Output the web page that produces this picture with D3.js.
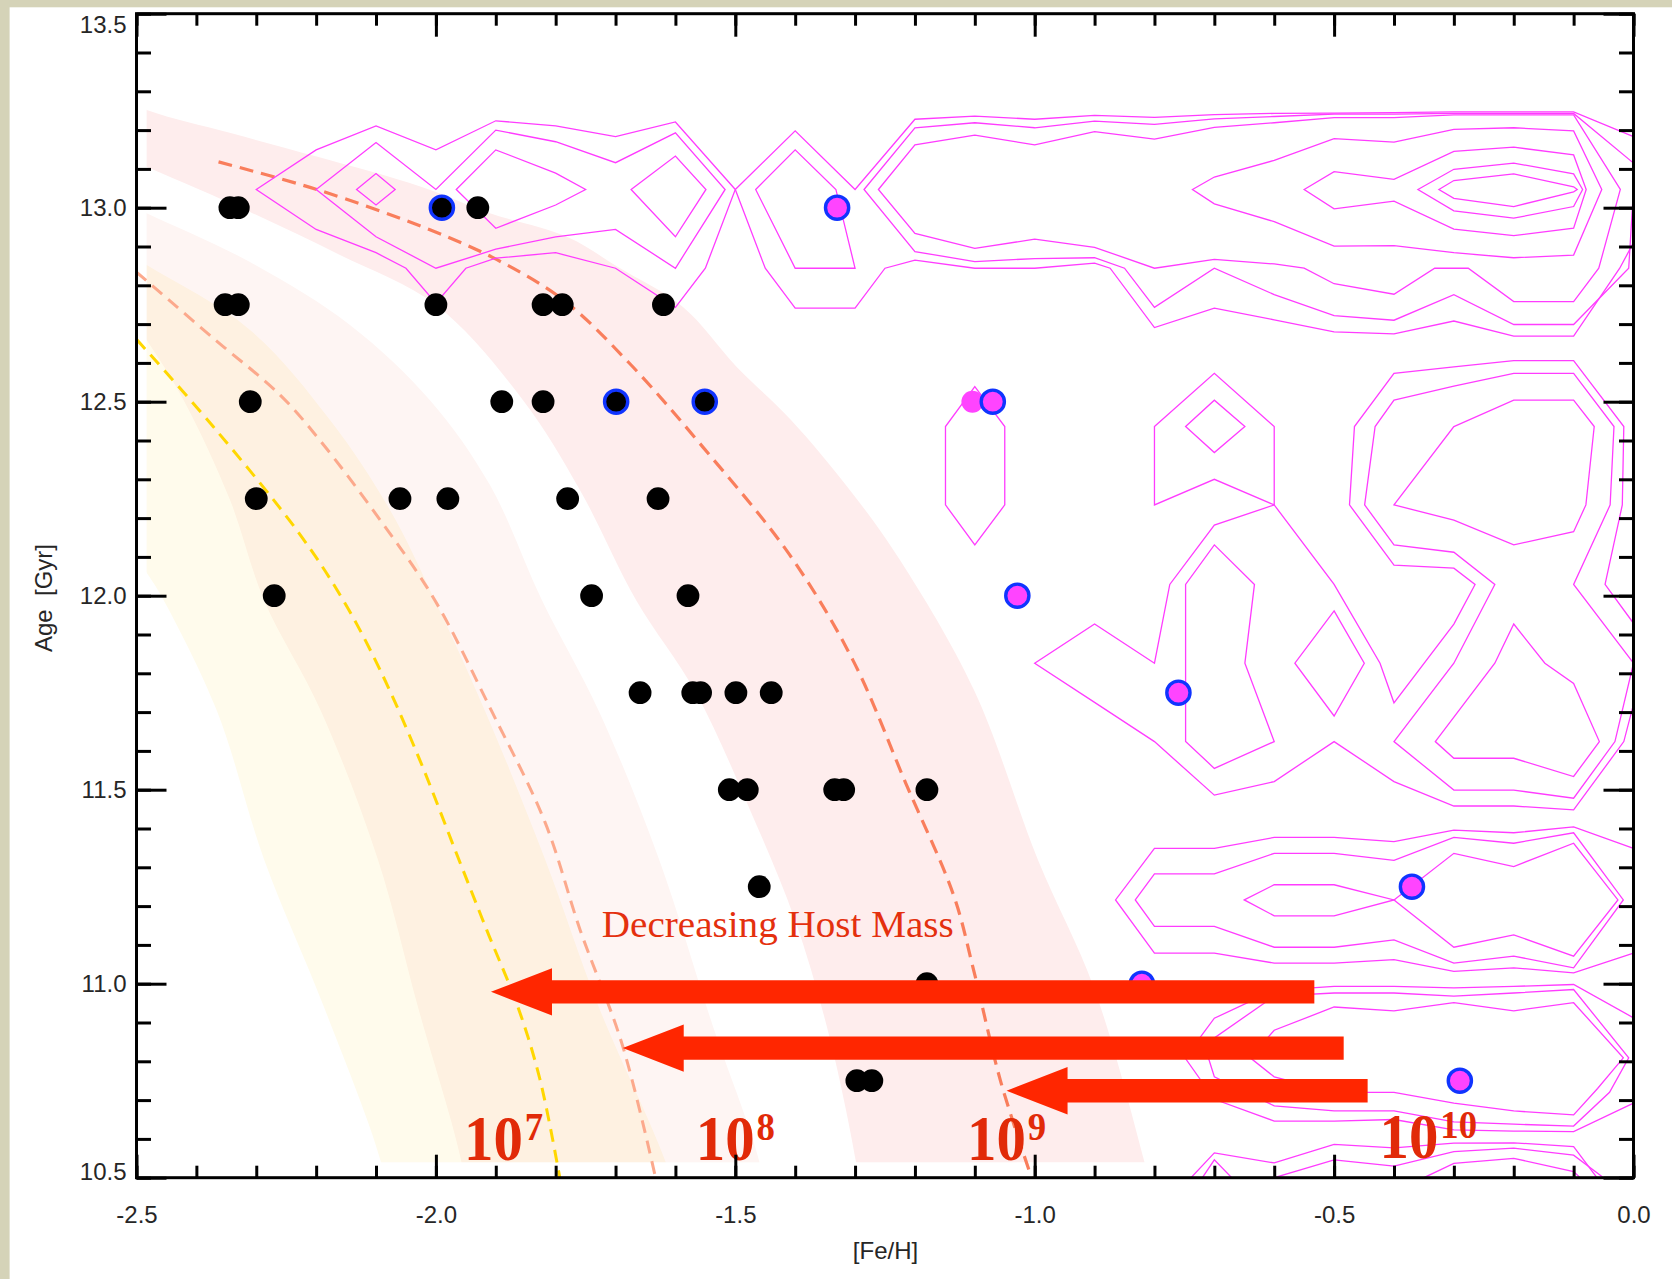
<!DOCTYPE html>
<html>
<head>
<meta charset="utf-8">
<script src="https://cdn.jsdelivr.net/npm/d3@7"></script>
<style>
  html, body { margin: 0; padding: 0; background: #fff; }
  svg { display: block; }
</style>
</head>
<body>
<svg id="chart" width="1672" height="1279"></svg>
<script>
// ---------------- data ----------------
// axis ticks
const fehMajorTicks = [-2.5, -2.0, -1.5, -1.0, -0.5, 0.0];
const ageMajorTicks = [10.5, 11.0, 11.5, 12.0, 12.5, 13.0, 13.5];

// globular clusters: [Fe/H], age (Gyr)
const blackClusters = [
  [-2.344, 13.0], [-2.330, 13.0], [-1.930, 13.0],
  [-2.352, 12.75], [-2.330, 12.75], [-2.000, 12.75], [-1.821, 12.75], [-1.789, 12.75], [-1.620, 12.75],
  [-2.310, 12.5], [-1.890, 12.5], [-1.821, 12.5],
  [-2.300, 12.25], [-2.060, 12.25], [-1.980, 12.25], [-1.780, 12.25], [-1.629, 12.25],
  [-2.270, 12.0], [-1.740, 12.0], [-1.579, 12.0],
  [-1.659, 11.75], [-1.571, 11.75], [-1.558, 11.75], [-1.499, 11.75], [-1.440, 11.75],
  [-1.510, 11.5], [-1.480, 11.5], [-1.334, 11.5], [-1.319, 11.5], [-1.180, 11.5],
  [-1.460, 11.25],
  [-1.180, 11.0],
  [-1.297, 10.75], [-1.272, 10.75]
];
const blackRinged = [[-1.990, 13.0], [-1.699, 12.5], [-1.551, 12.5]];
const magentaRinged = [
  [-1.330, 13.0], [-1.070, 12.5], [-1.029, 12.0], [-0.760, 11.75],
  [-0.370, 11.25], [-0.821, 11.0], [-0.290, 10.75]
];
const magentaPlain = [[-1.104, 12.5]];

// age-metallicity relations for host masses (dashed curves)
const amr1e9 = [[-2.363, 13.118], [-2.199, 13.047], [-2.010, 12.943], [-1.898, 12.866], [-1.787, 12.762],
  [-1.678, 12.601], [-1.553, 12.381], [-1.410, 12.107], [-1.303, 11.832],
  [-1.214, 11.512], [-1.135, 11.226], [-1.102, 11.035], [-1.057, 10.749], [-1.005, 10.499]];
const amr1e8 = [[-2.500, 12.834], [-2.372, 12.664], [-2.260, 12.517], [-2.194, 12.401], [-2.093, 12.195],
  [-2.002, 11.989], [-1.907, 11.703], [-1.818, 11.417], [-1.759, 11.138], [-1.689, 10.844], [-1.633, 10.499]];
const amr1e7 = [[-2.500, 12.661], [-2.372, 12.436], [-2.229, 12.162], [-2.155, 11.989], [-2.093, 11.808],
  [-2.027, 11.577], [-1.968, 11.345], [-1.915, 11.138], [-1.863, 10.940], [-1.826, 10.752], [-1.793, 10.499]];

// spread of each relation: upper (metal-rich) and lower (metal-poor) edges
const band1e9Upper = [[-2.60, 13.33], [-2.483, 13.252], [-2.3445, 13.193], [-2.1976, 13.131], [-2.0249, 13.054],
  [-1.9097, 12.986], [-1.7794, 12.924], [-1.6959, 12.847], [-1.5874, 12.744], [-1.4972, 12.589],
  [-1.4070, 12.453], [-1.3085, 12.272], [-1.2250, 12.092], [-1.1014, 11.757], [-0.9945, 11.319],
  [-0.9010, 10.989], [-0.8166, 10.540], [-0.795, 10.40]];
const band1e9Lower = [[-2.60, 13.18], [-2.483, 13.105], [-2.3105, 12.989], [-2.1602, 12.878], [-1.9998, 12.749],
  [-1.8545, 12.504], [-1.7593, 12.272], [-1.6658, 11.989], [-1.5658, 11.750], [-1.4754, 11.448],
  [-1.4003, 11.164], [-1.3414, 10.855], [-1.2983, 10.540], [-1.285, 10.40]];
const band1e8Upper = [[-2.60, 13.07], [-2.483, 12.986], [-2.3105, 12.860], [-2.1435, 12.698], [-2.0099, 12.504],
  [-1.9097, 12.285], [-1.8231, 11.989], [-1.7280, 11.703], [-1.6274, 11.321], [-1.5379, 10.893],
  [-1.4596, 10.540], [-1.445, 10.40]];
const band1e8Lower = [[-2.60, 12.92], [-2.483, 12.659], [-2.4212, 12.504], [-2.3439, 12.247], [-2.2871, 11.989],
  [-2.1920, 11.703], [-2.0970, 11.321], [-2.0299, 10.940], [-1.9572, 10.540], [-1.945, 10.40]];
const band1e7Upper = [[-2.60, 12.96], [-2.483, 12.852], [-2.3105, 12.685], [-2.1769, 12.453], [-2.0767, 12.221],
  [-2.0020, 11.989], [-1.9180, 11.703], [-1.8178, 11.321], [-1.7280, 10.940], [-1.6162, 10.540], [-1.59, 10.40]];
const band1e7Lower = [[-2.60, 12.30], [-2.483, 12.059], [-2.4549, 11.989], [-2.3656, 11.703], [-2.2871, 11.321],
  [-2.1869, 10.940], [-2.0917, 10.540], [-2.075, 10.40]];

// field-star density contours (closed rings)
const closedContours = [
  // metal-poor group
  [[-2.30, 13.047], [-2.20, 13.149], [-2.10, 13.211], [-2.00, 13.149], [-1.90, 13.224], [-1.80, 13.211],
   [-1.70, 13.183], [-1.60, 13.221], [-1.50, 13.047], [-1.55, 12.844], [-1.60, 12.743], [-1.70, 12.844],
   [-1.80, 12.884], [-1.90, 12.870], [-1.95, 12.844], [-2.00, 12.754], [-2.05, 12.844], [-2.10, 12.884], [-2.20, 12.944]],
  [[-2.20, 13.047], [-2.10, 13.168], [-2.00, 13.047], [-1.90, 13.200], [-1.80, 13.170], [-1.70, 13.116],
   [-1.60, 13.193], [-1.517, 13.047], [-1.60, 12.844], [-1.70, 12.944], [-1.80, 12.925], [-1.90, 12.893],
   [-2.00, 12.844], [-2.10, 12.925]],
  [[-2.1325, 13.047], [-2.10, 13.088], [-2.068, 13.047], [-2.10, 13.007]],
  [[-1.966, 13.047], [-1.90, 13.149], [-1.80, 13.089], [-1.75, 13.047], [-1.80, 13.007], [-1.90, 12.947]],
  [[-1.674, 13.047], [-1.60, 13.133], [-1.549, 13.047], [-1.60, 12.925]],
  [[-1.466, 13.047], [-1.40, 13.149], [-1.332, 13.047], [-1.30, 12.844], [-1.40, 12.844]],
  // old metal-rich group
  [[-1.285, 13.047], [-1.20, 13.206], [-1.10, 13.219], [-1.00, 13.206], [-0.90, 13.223], [-0.80, 13.215],
   [-0.70, 13.229], [-0.60, 13.235], [-0.50, 13.241], [-0.40, 13.241], [-0.30, 13.243], [-0.20, 13.243],
   [-0.10, 13.243], [0.0, 13.115], [0.0, 13.047], [-0.008, 12.844], [-0.10, 12.699], [-0.20, 12.699],
   [-0.30, 12.776], [-0.40, 12.710], [-0.50, 12.722], [-0.60, 12.776], [-0.70, 12.844], [-0.80, 12.743],
   [-0.85, 12.844], [-0.90, 12.871], [-1.00, 12.869], [-1.10, 12.861], [-1.20, 12.887]],
  [[-1.261, 13.047], [-1.20, 13.162], [-1.10, 13.187], [-1.00, 13.162], [-0.90, 13.196], [-0.80, 13.177],
   [-0.70, 13.207], [-0.60, 13.219], [-0.50, 13.232], [-0.40, 13.232], [-0.30, 13.239], [-0.20, 13.239],
   [-0.10, 13.239], [-0.022, 13.047], [-0.058, 12.844], [-0.10, 12.758], [-0.20, 12.758], [-0.276, 12.844],
   [-0.332, 12.844], [-0.40, 12.777], [-0.50, 12.804], [-0.550, 12.844], [-0.60, 12.855], [-0.70, 12.867],
   [-0.80, 12.844], [-0.90, 12.898], [-1.00, 12.919], [-1.10, 12.895], [-1.20, 12.934]],
  [[-0.7365, 13.047], [-0.70, 13.079], [-0.60, 13.122], [-0.50, 13.178], [-0.40, 13.169], [-0.30, 13.202],
   [-0.20, 13.206], [-0.10, 13.198], [-0.053, 13.047], [-0.10, 12.878], [-0.20, 12.871], [-0.30, 12.884],
   [-0.40, 12.902], [-0.50, 12.901], [-0.60, 12.964], [-0.70, 13.010]],
  [[-0.55, 13.047], [-0.50, 13.093], [-0.40, 13.073], [-0.30, 13.145], [-0.20, 13.156], [-0.10, 13.136],
   [-0.079, 13.047], [-0.10, 12.947], [-0.20, 12.928], [-0.30, 12.945], [-0.40, 13.017], [-0.50, 12.997]],
  [[-0.36, 13.047], [-0.30, 13.099], [-0.20, 13.115], [-0.10, 13.087], [-0.085, 13.047], [-0.10, 13.003],
   [-0.20, 12.973], [-0.30, 12.992]],
  [[-0.325, 13.047], [-0.30, 13.070], [-0.20, 13.087], [-0.10, 13.054], [-0.094, 13.047], [-0.10, 13.041],
   [-0.20, 13.003], [-0.30, 13.024]],
  // intermediate-age group
  [[-1.10, 12.539], [-1.05, 12.436], [-1.05, 12.234], [-1.10, 12.131], [-1.149, 12.234], [-1.149, 12.436]],
  [[-0.80, 12.436], [-0.70, 12.573], [-0.60, 12.436], [-0.60, 12.234], [-0.70, 12.300], [-0.80, 12.234]],
  [[-0.748, 12.436], [-0.70, 12.504], [-0.649, 12.436], [-0.70, 12.369]],
  [[-0.40, 12.504], [-0.30, 12.540], [-0.20, 12.573], [-0.10, 12.573], [-0.0326, 12.436], [-0.039, 12.234],
   [-0.10, 12.029], [0.0, 11.826], [-0.031, 11.624], [-0.10, 11.478], [-0.20, 11.499], [-0.30, 11.499],
   [-0.40, 11.624], [-0.30, 11.826], [-0.2316, 12.029], [-0.30, 12.112], [-0.40, 12.131], [-0.449, 12.234],
   [-0.4315, 12.436]],
  [[-0.30, 12.436], [-0.20, 12.504], [-0.10, 12.504], [-0.0656, 12.436], [-0.0795, 12.234], [-0.10, 12.165],
   [-0.20, 12.131], [-0.30, 12.195], [-0.40, 12.234]],
  [[-0.20, 11.927], [-0.148, 11.826], [-0.10, 11.774], [-0.057, 11.624], [-0.10, 11.534], [-0.20, 11.581],
   [-0.30, 11.581], [-0.331, 11.624], [-0.2316, 11.826]],
  [[-0.50, 11.961], [-0.4496, 11.826], [-0.50, 11.690], [-0.5655, 11.826]],
  [[-0.70, 12.131], [-0.633, 12.029], [-0.649, 11.826], [-0.60, 11.624], [-0.70, 11.555], [-0.748, 11.624],
   [-0.748, 12.029]],
  // young metal-rich groups
  [[-0.832, 11.216], [-0.80, 11.283], [-0.70, 11.283], [-0.60, 11.336], [-0.50, 11.336], [-0.40, 11.318],
   [-0.30, 11.377], [-0.20, 11.362], [-0.10, 11.389], [-0.017, 11.216], [-0.10, 11.041], [-0.20, 11.071],
   [-0.30, 11.053], [-0.40, 11.113], [-0.50, 11.094], [-0.60, 11.094], [-0.70, 11.148], [-0.80, 11.148]],
  [[-0.65, 11.216], [-0.60, 11.255], [-0.50, 11.255], [-0.40, 11.216], [-0.50, 11.175], [-0.60, 11.175]],
  [[-0.40, 11.216], [-0.30, 11.336], [-0.20, 11.302], [-0.10, 11.362], [-0.026, 11.216], [-0.10, 11.071],
   [-0.20, 11.126], [-0.30, 11.094]],
  [[-0.71, 10.809], [-0.70, 10.860], [-0.60, 10.968], [-0.50, 10.976], [-0.40, 10.976], [-0.30, 10.968],
   [-0.20, 10.976], [-0.10, 10.985], [-0.008, 10.809], [-0.04, 10.720], [-0.10, 10.633], [-0.20, 10.638],
   [-0.30, 10.644], [-0.40, 10.672], [-0.50, 10.672], [-0.60, 10.685], [-0.70, 10.760]],
  [[-0.64, 10.809], [-0.60, 10.880], [-0.50, 10.940], [-0.40, 10.930], [-0.30, 10.951], [-0.20, 10.930],
   [-0.10, 10.951], [-0.017, 10.809], [-0.06, 10.730], [-0.10, 10.662], [-0.20, 10.672], [-0.30, 10.692],
   [-0.40, 10.720], [-0.50, 10.720], [-0.60, 10.760]]
];

// contour pieces that run into the plot edges
const openContours = [
  [[-1.50, 13.047], [-1.40, 13.198], [-1.30, 13.047], [-1.20, 13.228], [-1.10, 13.236], [-1.00, 13.228],
   [-0.90, 13.238], [-0.80, 13.233], [-0.70, 13.240], [-0.60, 13.243], [-0.50, 13.244], [-0.40, 13.245],
   [-0.30, 13.247], [-0.20, 13.247], [-0.10, 13.247], [0.0, 13.183]],
  [[-1.50, 13.047], [-1.45, 12.844], [-1.40, 12.741], [-1.30, 12.741], [-1.25, 12.844], [-1.20, 12.865],
   [-1.10, 12.844], [-1.00, 12.844], [-0.90, 12.857], [-0.874, 12.844], [-0.80, 12.691], [-0.70, 12.741],
   [-0.60, 12.711], [-0.50, 12.680], [-0.40, 12.675], [-0.30, 12.708], [-0.20, 12.669], [-0.10, 12.669],
   [-0.023, 12.844], [0.0, 12.91]],
  [[0.0, 11.929], [-0.0475, 12.029], [-0.0187, 12.234], [-0.0162, 12.436], [-0.10, 12.606], [-0.20, 12.606],
   [-0.30, 12.590], [-0.40, 12.573], [-0.466, 12.436], [-0.4743, 12.234], [-0.40, 12.079], [-0.30, 12.071],
   [-0.2646, 12.029], [-0.30, 11.927], [-0.40, 11.724], [-0.4233, 11.826], [-0.50, 12.029], [-0.60, 12.234],
   [-0.70, 12.182], [-0.7744, 12.029], [-0.80, 11.826], [-0.90, 11.927], [-1.00, 11.826], [-0.90, 11.725],
   [-0.80, 11.624], [-0.70, 11.486], [-0.60, 11.521], [-0.50, 11.624], [-0.40, 11.521], [-0.30, 11.458],
   [-0.20, 11.458], [-0.10, 11.448], [-0.0162, 11.624], [0.0, 11.72]],
  [[0.0, 11.349], [-0.10, 11.404], [-0.20, 11.389], [-0.30, 11.396], [-0.40, 11.366], [-0.50, 11.377],
   [-0.60, 11.377], [-0.70, 11.349], [-0.80, 11.349], [-0.865, 11.216], [-0.80, 11.079], [-0.70, 11.079],
   [-0.60, 11.053], [-0.50, 11.053], [-0.40, 11.062], [-0.30, 11.032], [-0.20, 11.041], [-0.10, 11.028],
   [0.0, 11.079]],
  [[0.0, 10.912], [-0.10, 10.998], [-0.20, 10.993], [-0.30, 10.989], [-0.40, 10.993], [-0.50, 10.993],
   [-0.60, 10.983], [-0.70, 10.911], [-0.749, 10.809], [-0.70, 10.702], [-0.60, 10.646], [-0.50, 10.646],
   [-0.40, 10.650], [-0.30, 10.623], [-0.20, 10.620], [-0.10, 10.619], [0.0, 10.692]],
  [[-0.739, 10.5], [-0.70, 10.564], [-0.60, 10.538], [-0.50, 10.586], [-0.40, 10.577], [-0.30, 10.589],
   [-0.20, 10.590], [-0.10, 10.580], [-0.061, 10.5]],
  [[-0.60, 10.5], [-0.50, 10.546], [-0.40, 10.530], [-0.30, 10.567], [-0.20, 10.576], [-0.10, 10.558], [-0.05, 10.5]],
  [[-0.72, 10.5], [-0.70, 10.546], [-0.671, 10.5]],
  [[-0.35, 10.5], [-0.30, 10.537], [-0.20, 10.550], [-0.10, 10.516], [-0.089, 10.5]]
];

// "decreasing host mass" arrows: [metal-rich end, arrow tip, age]
const massArrows = [
  [-0.533, -1.908, 10.979],
  [-0.484, -1.688, 10.834],
  [-0.444, -1.047, 10.724]
];
// host-mass labels: [exponent, [Fe/H] of left edge, baseline age]
const massLabels = [["7", -1.953, 10.546], ["8", -1.566, 10.546], ["9", -1.113, 10.546], ["10", -0.424, 10.551]];

// ---------------- layout ----------------
const W = 1672, H = 1279;
const plot = { left: 136.5, right: 1633.5, top: 13.7, bottom: 1177.7 };
const bandFehMin = -2.483, bandAgeMin = 10.54;

const x = d3.scaleLinear().domain([-2.5, 0]).range([plot.left, plot.right]);
const y = d3.scaleLinear().domain([10.5, 13.5]).range([plot.bottom, plot.top]);

const svg = d3.select("#chart");

// page and beige border
svg.append("rect").attr("width", W).attr("height", H).attr("fill", "#ffffff");
svg.append("rect").attr("x", 0).attr("y", 0).attr("width", W).attr("height", 7.3).attr("fill", "#d5d3b8");
svg.append("rect").attr("x", 0).attr("y", 0).attr("width", 9.6).attr("height", H).attr("fill", "#d5d3b8");

const defs = svg.append("defs");
defs.append("clipPath").attr("id", "plotClip").append("rect")
  .attr("x", plot.left).attr("y", plot.top)
  .attr("width", plot.right - plot.left).attr("height", plot.bottom - plot.top);
defs.append("clipPath").attr("id", "bandClip").append("rect")
  .attr("x", x(bandFehMin)).attr("y", plot.top)
  .attr("width", plot.right - x(bandFehMin)).attr("height", y(bandAgeMin) - plot.top);

const smooth = d3.line().x(d => x(d[0])).y(d => y(d[1])).curve(d3.curveCatmullRom.alpha(0.5));
function bandPath(upper, lower) {
  const a = smooth(upper);
  const b = smooth(lower.slice().reverse());
  return a + "L" + b.slice(1) + "Z";
}

// shaded spreads
const bands = svg.append("g").attr("clip-path", "url(#bandClip)");
bands.append("path").attr("d", bandPath(band1e9Upper, band1e9Lower)).attr("fill", "#feeded");
bands.append("path").attr("d", bandPath(band1e7Upper, band1e7Lower)).attr("fill", "#fffbec");
bands.append("path").attr("d", bandPath(band1e8Upper, band1e8Lower)).attr("fill", "#fef5f3")
  .style("mix-blend-mode", "multiply");

// dashed relations
const curves = svg.append("g").attr("clip-path", "url(#plotClip)").attr("fill", "none");
curves.append("path").attr("d", smooth(amr1e7)).attr("stroke", "#ffd700").attr("stroke-width", 3)
  .attr("stroke-dasharray", "13,8");
curves.append("path").attr("d", smooth(amr1e8)).attr("stroke", "#fca98c").attr("stroke-width", 3)
  .attr("stroke-dasharray", "13,8");
curves.append("path").attr("d", smooth(amr1e9)).attr("stroke", "#f97e5c").attr("stroke-width", 3.2)
  .attr("stroke-dasharray", "14,8");

// density contours
const linear = d3.line().x(d => x(d[0])).y(d => y(d[1]));
const contours = svg.append("g").attr("clip-path", "url(#plotClip)")
  .attr("fill", "none").attr("stroke", "#ff3cff").attr("stroke-width", 1.3).attr("stroke-linejoin", "miter");
contours.selectAll("path.closed").data(closedContours).join("path").attr("class", "closed")
  .attr("d", d => linear(d) + "Z");
contours.selectAll("path.open").data(openContours).join("path").attr("class", "open")
  .attr("d", d => linear(d));

// clusters
const pts = svg.append("g");
pts.selectAll("circle.k").data(blackClusters).join("circle").attr("class", "k")
  .attr("cx", d => x(d[0])).attr("cy", d => y(d[1])).attr("r", 11.4).attr("fill", "#000");
pts.selectAll("circle.kr").data(blackRinged).join("circle").attr("class", "kr")
  .attr("cx", d => x(d[0])).attr("cy", d => y(d[1])).attr("r", 11.6)
  .attr("fill", "#000").attr("stroke", "#1034ff").attr("stroke-width", 3.4);
pts.selectAll("circle.mp").data(magentaPlain).join("circle").attr("class", "mp")
  .attr("cx", d => x(d[0])).attr("cy", d => y(d[1])).attr("r", 11).attr("fill", "#ff44ff");
pts.selectAll("circle.mr").data(magentaRinged).join("circle").attr("class", "mr")
  .attr("cx", d => x(d[0])).attr("cy", d => y(d[1])).attr("r", 11.6)
  .attr("fill", "#ff44ff").attr("stroke", "#1034ff").attr("stroke-width", 3.4);

// arrows
const shaftHalf = 11.7, headHalf = 23.7, headLen = 61;
svg.append("g").selectAll("path").data(massArrows).join("path")
  .attr("fill", "#ff2600")
  .attr("d", d => {
    const xr = x(d[0]), xt = x(d[1]), cy = y(d[2]), xb = xt + headLen;
    return `M${xr},${cy - shaftHalf}L${xb},${cy - shaftHalf}L${xb},${cy - headHalf}L${xt},${cy}` +
           `L${xb},${cy + headHalf}L${xb},${cy + shaftHalf}L${xr},${cy + shaftHalf}Z`;
  });

// annotations
svg.append("text")
  .attr("x", x(-1.723)).attr("y", y(11.12))
  .attr("font-family", "'Liberation Serif', 'Times New Roman', serif")
  .attr("font-size", 38).attr("fill", "#e4300e")
  .attr("textLength", 352).attr("lengthAdjust", "spacingAndGlyphs")
  .text("Decreasing Host Mass");

const lbl = svg.append("g").selectAll("text").data(massLabels).join("text")
  .attr("transform", d => `translate(${x(d[1])},${y(d[2])}) scale(0.92,1)`)
  .attr("font-family", "'Liberation Serif', 'Times New Roman', serif")
  .attr("font-weight", "bold").attr("fill", "#e12a08");
lbl.append("tspan").attr("font-size", 64).text("10");
lbl.append("tspan").attr("font-size", 40).attr("dy", -20).attr("dx", 2).text(d => d[0]);

// ---------------- axes ----------------
const minorFeh = d3.range(0, 26).map(i => -2.5 + i * 0.1);
const minorAge = d3.range(0, 31).map(i => 10.5 + i * 0.1);
const fmt = d => d.toFixed(1);

function styleAxis(g) {
  g.select(".domain").remove();
  g.selectAll(".tick line").attr("stroke", "#000").attr("stroke-width", 3);
  g.attr("font-family", "'Liberation Sans', Arial, sans-serif").attr("font-size", 24);
  g.selectAll(".tick text").attr("fill", "#262626");
}

const axes = svg.append("g");
// bottom
axes.append("g").attr("transform", `translate(0,${plot.bottom})`)
  .call(d3.axisBottom(x).tickValues(minorFeh).tickSize(-12).tickSizeOuter(0).tickFormat(""))
  .call(styleAxis);
axes.append("g").attr("transform", `translate(0,${plot.bottom})`)
  .call(d3.axisBottom(x).tickValues(fehMajorTicks).tickSize(-23).tickSizeOuter(0).tickPadding(28).tickFormat(fmt))
  .call(styleAxis);
// top
axes.append("g").attr("transform", `translate(0,${plot.top})`)
  .call(d3.axisTop(x).tickValues(minorFeh).tickSize(-12).tickSizeOuter(0).tickFormat(""))
  .call(styleAxis);
axes.append("g").attr("transform", `translate(0,${plot.top})`)
  .call(d3.axisTop(x).tickValues(fehMajorTicks).tickSize(-23).tickSizeOuter(0).tickFormat(""))
  .call(styleAxis);
// left
axes.append("g").attr("transform", `translate(${plot.left},0)`)
  .call(d3.axisLeft(y).tickValues(minorAge).tickSize(-14.5).tickSizeOuter(0).tickFormat(""))
  .call(styleAxis);
const yMajor = axes.append("g").attr("transform", `translate(${plot.left},0)`)
  .call(d3.axisLeft(y).tickValues(ageMajorTicks).tickSize(-30).tickSizeOuter(0).tickPadding(10).tickFormat(fmt))
  .call(styleAxis);
yMajor.selectAll(".tick text").attr("y", d => d === 13.5 ? 11 : (d === 10.5 ? -6 : 0));
// right
axes.append("g").attr("transform", `translate(${plot.right},0)`)
  .call(d3.axisRight(y).tickValues(minorAge).tickSize(-14.5).tickSizeOuter(0).tickFormat(""))
  .call(styleAxis);
axes.append("g").attr("transform", `translate(${plot.right},0)`)
  .call(d3.axisRight(y).tickValues(ageMajorTicks).tickSize(-30).tickSizeOuter(0).tickFormat(""))
  .call(styleAxis);

// frame
axes.append("rect")
  .attr("x", plot.left).attr("y", plot.top)
  .attr("width", plot.right - plot.left).attr("height", plot.bottom - plot.top)
  .attr("fill", "none").attr("stroke", "#000").attr("stroke-width", 3);

// axis titles
axes.append("text")
  .attr("x", (plot.left + plot.right) / 2 + 0.5).attr("y", 1259)
  .attr("text-anchor", "middle")
  .attr("font-family", "'Liberation Sans', Arial, sans-serif").attr("font-size", 24).attr("fill", "#262626")
  .text("[Fe/H]");
axes.append("text")
  .attr("transform", "translate(52,598) rotate(-90)")
  .attr("text-anchor", "middle")
  .style("white-space", "pre")
  .attr("font-family", "'Liberation Sans', Arial, sans-serif").attr("font-size", 24).attr("fill", "#262626")
  .text("Age  [Gyr]");
</script>
</body>
</html>
